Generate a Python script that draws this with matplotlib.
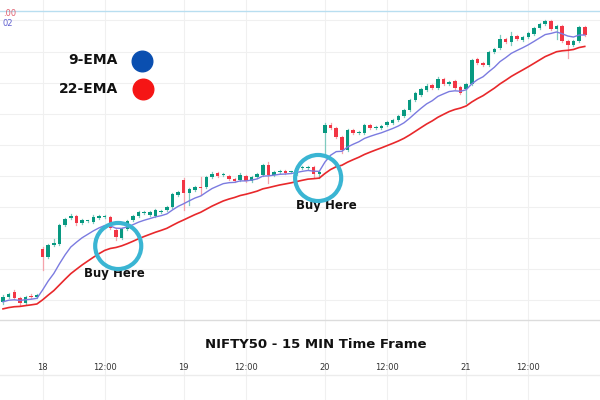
import matplotlib
matplotlib.use("Agg")
import matplotlib.pyplot as plt
import numpy as np

opens = [98,103,108,102,97,104,103,
         151,143,155,156,175,182,184,177,179,178,182,183,183,170,162,171,180,184,187,185,184,188,190,193,205,
         220,207,210,213,213,223,227,225,224,221,220,224,219,223,225,235,225,228,229,228,226,232,232,233,226,
         267,275,272,263,250,270,267,267,275,272,272,275,277,280,284,290,300,305,310,315,312,321,316,319,313,
         311,316,341,337,335,348,352,361,358,364,360,363,366,372,376,379,371,374,359,355,359,373]
closes = [103,106,102,97,103,103,105,
          143,155,157,175,181,184,177,180,179.5,183,184,184,172,163,171,179,184,188,187.5,188,190,189,193,206,208,
          207,211,213,212,223,226,224,226,221,219,225,219,223,226,235,225,228,229,227,228.5,232,233,233,226,228,
          275,272,263,250,270,267,268,275,272,273,274,278,280,284,290,300,307,311,314,312,321,316,318,312,307,
          316,340,337,335,348,351,361,358,364,361,363,367,372,376,379,371,374,359,355,359,373,365]
wick_up = [2,1,2,1,1,2,1,
           2,1,4,1,1,2,1,1,1,2,1,1,1,2,1,1,1,1,2,1,1,1,1,1,1,
           2,1,1,10,1,2,1,1,1,1,2,1,1,1,1,3,1,1,1,1,1,1,1,1,1,
           2,2,1,1,1,1,1,1,1,1,1,1,1,1,1,1,1,1,2,1,2,1,1,1,1,
           1,1,1,1,1,1,4,1,4,1,1,1,1,1,1,1,1,1,1,1,1,1]
wick_dn = [2,1,1,2,1,1,1,
           13,1,1,1,1,1,2,1,1,1,1,1,1,3,1,1,1,1,1,1,1,1,1,1,1,
           17,12,1,7,1,1,1,1,1,1,1,1,1,1,1,8,1,1,1,1,1,1,1,3,4,
           21,1,1,3,1,1,1,1,1,1,1,1,1,1,1,1,1,1,1,1,1,1,1,1,1,
           14,1,1,1,1,1,1,1,3,1,1,1,1,1,1,1,10,1,13,1,1,1]
ema9_seed = 97
ema22_seed = 90
day_ticks = [7, 32, 57, 82]
day_labels = ["18", "19", "20", "21"]
noon_ticks = [18, 43, 68, 93]
noon_label = "12:00"
legend_labels = ["9-EMA", "22-EMA"]
title = "NIFTY50 - 15 MIN Time Frame"
buy_idx = [21, 56]
buy_text = "Buy Here"

GREEN = "#089981"
RED = "#f23645"

def ema(vals, seed, n):
    a = 2 / (n + 1)
    out = []
    e = seed
    for v in vals:
        e = e + a * (v - e)
        out.append(e)
    return out

fig = plt.figure(figsize=(6, 4), dpi=100)
ax = fig.add_axes([0, 0, 1, 1])
ax.set_xlim(-0.53, 105.7)
ax.set_ylim(0, 400)
ax.axis("off")

for t in day_ticks + noon_ticks:
    ax.axvline(t, color="#f0f0f0", lw=0.8, zorder=0)
for y in [380, 348, 317, 286, 255, 224, 193, 162, 131, 100]:
    ax.axhline(y, color="#f0f0f0", lw=0.8, zorder=0)
ax.axhline(389, color="#b8def0", lw=1, zorder=1)
ax.axhline(80, color="#dcdcdc", lw=1, zorder=1)
ax.axhline(25, color="#ececec", lw=1, zorder=1)

x = np.arange(len(opens))
for i in x:
    o, c = opens[i], closes[i]
    col = GREEN if c >= o else RED
    lo, hi = min(o, c), max(o, c)
    wcol = "#7fcabf" if col == GREEN else "#f5a3ab"
    ax.plot([i, i], [lo - wick_dn[i], hi + wick_up[i]], color=wcol, lw=0.9, zorder=2)
    ax.bar(i, max(hi - lo, 1.2), bottom=lo, width=0.62, color=col, zorder=3)

ax.plot(x, ema(closes, ema9_seed, 9), color="#7b7be0", lw=1, zorder=4)
ax.plot(x, ema(closes, ema22_seed, 22), color="#e8282b", lw=1.2, zorder=4)

for t, lab in zip(day_ticks, day_labels):
    ax.text(t, 33, lab, fontsize=6, color="#333333", ha="center", va="center")
for t in noon_ticks:
    ax.text(t, 33, noon_label, fontsize=6, color="#333333", ha="center", va="center")

ax.text(0, 386, ".00", fontsize=6, color="#e06070", ha="left", va="center")
ax.text(0, 377, "02", fontsize=6, color="#6060d0", ha="left", va="center")

ax.text(20.3, 340, legend_labels[0], fontsize=10, fontweight="bold", ha="right", va="center", color="#111111")
ax.text(20.3, 311, legend_labels[1], fontsize=10, fontweight="bold", ha="right", va="center", color="#111111")
ax.scatter([24.6], [339], s=220, color="#0a4fb0", zorder=5)
ax.scatter([24.8], [311], s=220, color="#f51515", zorder=5)

for bi, (cx, cy, tx, ty) in zip(buy_idx, [(20.4, 154, 19.7, 127), (55.8, 222, 57.2, 194)]):
    ax.scatter([cx], [cy], s=1100, facecolors="none", edgecolors="#3ab5d3", linewidths=3, zorder=6)
    ax.text(tx, ty, buy_text, fontsize=8.5, fontweight="bold", ha="center", va="center", color="#111111")

ax.text(55.3, 55, title, fontsize=9.5, fontweight="bold", ha="center", va="center", color="#111111")

fig.savefig("out.png", dpi=100)
